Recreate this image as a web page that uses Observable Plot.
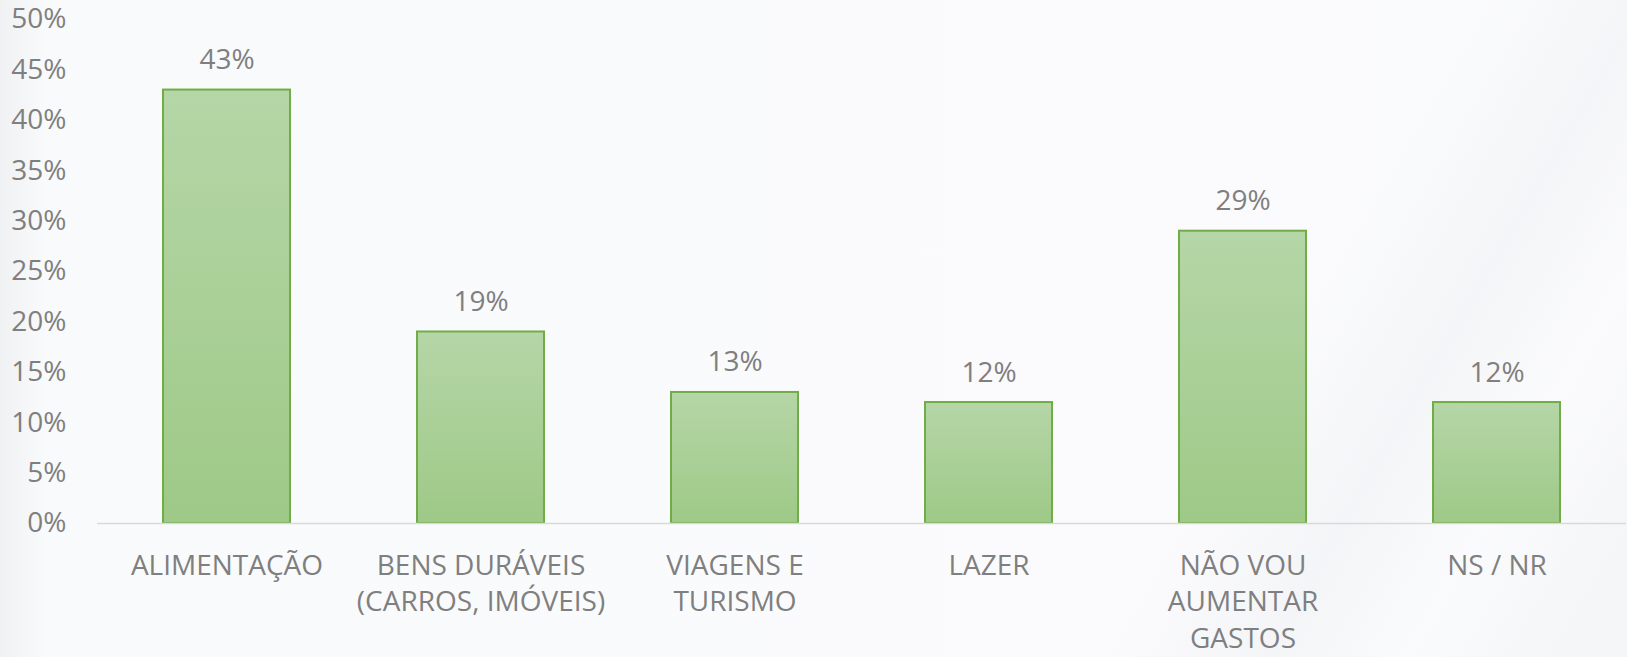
<!DOCTYPE html>
<html>
<head>
<meta charset="utf-8">
<script src="https://cdn.jsdelivr.net/npm/d3@7"></script>
<script src="https://cdn.jsdelivr.net/npm/@observablehq/plot@0.6"></script>
<style>
  html, body { margin: 0; padding: 0; }
  body {
    width: 1627px; height: 657px; overflow: hidden;
    background:
      linear-gradient(120deg, rgba(255,255,255,0) 0%, rgba(255,255,255,0) 74%, rgba(236,238,241,0.45) 82%, rgba(255,255,255,0) 89%, rgba(238,240,242,0.5) 97%),
      linear-gradient(90deg, #f0f1f3 0px, #f9fafb 45px, #fbfbfd 100%);
  }
  #chart svg { display: block; }
</style>
</head>
<body>
<div id="chart"></div>
<script>
const categories = [
  "ALIMENTAÇÃO",
  "BENS DURÁVEIS\n(CARROS, IMÓVEIS)",
  "VIAGENS E\nTURISMO",
  "LAZER",
  "NÃO VOU\nAUMENTAR\nGASTOS",
  "NS / NR"
];
const values = [0.43, 0.19, 0.13, 0.12, 0.29, 0.12];
const yTicks = [0, 0.05, 0.10, 0.15, 0.20, 0.25, 0.30, 0.35, 0.40, 0.45, 0.50];

const data = categories.map((c, i) => ({category: c, value: values[i]}));
const pct = d => Math.round(d * 100) + "%";

const chart = Plot.plot({
  width: 1627,
  height: 657,
  marginLeft: 97,
  marginRight: 1,
  marginTop: 19,
  marginBottom: 134,
  style: {
    fontFamily: "'Open Sans', sans-serif",
    fontSize: "28px",
    color: "#7f7f7f",
    background: "transparent",
    overflow: "visible"
  },
  x: {domain: categories, paddingInner: 0.5, paddingOuter: 0.25, label: null},
  y: {domain: [0, 0.5], label: null},
  marks: [
    Plot.axisY({ticks: yTicks, tickFormat: pct, tickSize: 0, tickPadding: 31, label: null, fontSize: 28}),
    Plot.axisX({tickSize: 0, tickPadding: 25, label: null, lineHeight: 1.31, fontSize: 28}),
    Plot.barY(data, {x: "category", y: "value", fill: "url(#barGrad)", stroke: "#70AD47", strokeWidth: 2}),
    Plot.ruleY([0], {stroke: "#d9d9d9", strokeWidth: 1.5}),
    Plot.text(data, {x: "category", y: "value", text: d => pct(d.value), dy: -30, fontSize: 28, fill: "#7f7f7f"})
  ]
});

const svg = d3.select(chart);
const defs = svg.insert("defs", ":first-child");
const grad = defs.append("linearGradient").attr("id", "barGrad").attr("x1", 0).attr("y1", 0).attr("x2", 0).attr("y2", 1);
grad.append("stop").attr("offset", "0%").attr("stop-color", "#b5d6a7");
grad.append("stop").attr("offset", "100%").attr("stop-color", "#9ec987");

document.getElementById("chart").appendChild(chart);
</script>
</body>
</html>
